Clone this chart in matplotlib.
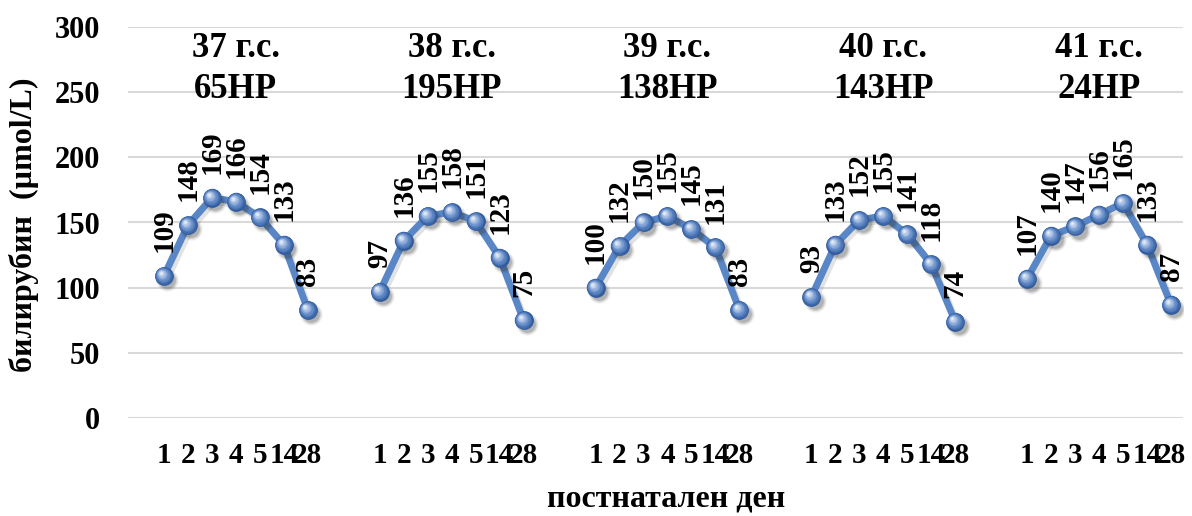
import numpy as np
import matplotlib
matplotlib.use("Agg")
import matplotlib.pyplot as plt
from matplotlib import transforms as mtransforms
from matplotlib.colors import to_rgb

# Postnatal days measured in every gestational-age group
days = ["1", "2", "3", "4", "5", "14", "28"]

# Gestational age groups and number of newborns in each
group_titles = ["37 г.с.", "38 г.с.", "39 г.с.", "40 г.с.", "41 г.с."]
group_counts = ["65НР", "195НР", "138НР", "143НР", "24НР"]

# Mean bilirubin (µmol/L) per postnatal day
bili_37 = [109, 148, 169, 166, 154, 133, 83]
bili_38 = [97, 136, 155, 158, 151, 123, 75]
bili_39 = [100, 132, 150, 155, 145, 131, 83]
bili_40 = [93, 133, 152, 155, 141, 118, 74]
bili_41 = [107, 140, 147, 156, 165, 133, 87]
series = [bili_37, bili_38, bili_39, bili_40, bili_41]

y_ticks = [0, 50, 100, 150, 200, 250, 300]

plt.rcParams["font.family"] = ["Liberation Serif", "DejaVu Serif"]
plt.rcParams["font.weight"] = "bold"
FS_TICK = 21
FS_VAL = 21
FS_TITLE = 25
FS_AXIS = 23

fig = plt.figure(figsize=(11.92, 5.16), dpi=100)
ax = fig.add_axes([128 / 1192, 1 - 418 / 516, (1183 - 128) / 1192, (418 - 27) / 516])

line_color = "#5886C6"
dark = np.array(to_rgb("#2F5B9E"))
mid = np.array(to_rgb("#6E94CE"))
light = np.array(to_rgb("#E4ECF8"))

gap = 2  # empty category slots between groups
step = len(days) + gap
blend = mtransforms.blended_transform_factory(ax.transData, ax.transAxes)

xpos_all, xlabels_all = [], []
for g, vals in enumerate(series):
    x = np.arange(len(vals)) + g * step
    xpos_all.extend(x)
    xlabels_all.extend(days)

    # soft shadow of the line
    sh = mtransforms.offset_copy(ax.transData, fig=fig, x=2.0, y=-2.5, units="points")
    ax.plot(x, vals, color="#7F7F7F", lw=5, alpha=0.22, transform=sh,
            solid_capstyle="round", zorder=2)
    ax.plot(x, vals, color=line_color, lw=5, solid_capstyle="round", zorder=3)

    # marker shadow
    for r, a in [(16, 0.08), (14, 0.14), (12, 0.2)]:
        sh2 = mtransforms.offset_copy(ax.transData, fig=fig, x=2.5, y=-3.0, units="points")
        ax.plot(x, vals, "o", ms=r, color="#303030", alpha=a, mec="none",
                transform=sh2, zorder=4)

    # shaded sphere markers
    n = 14
    for k in range(n):
        t = k / (n - 1)
        ms = 13.5 * (1 - 0.88 * t)
        if t < 0.45:
            c = dark + (mid - dark) * (t / 0.45)
        else:
            c = mid + (light - mid) * ((t - 0.45) / 0.55)
        tr = mtransforms.offset_copy(ax.transData, fig=fig, x=-2.4 * t, y=2.4 * t,
                                     units="points")
        ax.plot(x, vals, "o", ms=ms, color=c, mec="none", transform=tr,
                zorder=5 + k * 0.01)

    # value labels
    for xi, v in zip(x, vals):
        ax.annotate(f"{v}", (xi, v), xytext=(0, 17), textcoords="offset points",
                    rotation=90, ha="center", va="bottom", fontsize=FS_VAL,
                    fontweight="bold", zorder=8)

    # group titles
    cx = x.mean()
    ax.text(cx, 0.923, group_titles[g], transform=blend, ha="center", va="baseline",
            fontsize=FS_TITLE, fontweight="bold")
    ax.text(cx, 0.818, group_counts[g], transform=blend, ha="center", va="baseline",
            fontsize=FS_TITLE, fontweight="bold")

ax.set_xlim(-1.5, len(series) * step - gap - 0.5)
ax.set_ylim(0, 300)
ax.set_yticks(y_ticks)
ax.set_yticklabels([str(t) for t in y_ticks])
ax.set_xticks(xpos_all)
ax.set_xticklabels(xlabels_all)
ax.tick_params(axis="both", length=0)
ax.tick_params(axis="y", pad=20, labelsize=FS_TICK + 1)
ax.tick_params(axis="x", pad=17, labelsize=FS_TICK)
for lab in ax.get_xticklabels() + ax.get_yticklabels():
    lab.set_fontweight("bold")

ax.grid(axis="y", color="#D9D9D9", lw=1.5)
ax.set_axisbelow(True)
for s in ax.spines.values():
    s.set_visible(False)

fig.text(666 / 1192, 1 - 499 / 516, "постнатален ден", ha="center", va="center",
         fontsize=FS_AXIS, fontweight="bold")
fig.text(24 / 1192, 1 - 225 / 516, "билирубин  (µmol/L)", rotation=90,
         ha="center", va="center", fontsize=FS_AXIS, fontweight="bold")

fig.savefig("out.png", dpi=100, facecolor="white")
